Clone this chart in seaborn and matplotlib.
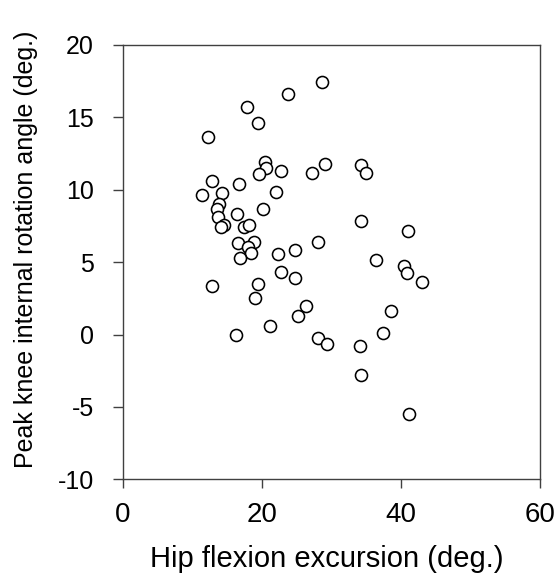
import matplotlib
matplotlib.use("Agg")
import matplotlib.pyplot as plt
import seaborn as sns
import pandas as pd

hip_flexion = [28.6, 23.8, 17.9, 19.4, 12.25, 20.5, 20.6, 19.5, 22.8, 27.2, 29.0, 34.3, 34.9,
               12.8, 16.75, 11.4, 14.2, 22.06, 13.8, 13.5, 13.7, 16.4, 20.1,
               14.5, 14.17, 17.4, 18.1, 34.3, 41.0,
               16.55, 18.8, 17.94, 18.4, 16.9, 22.35, 24.8, 28.0,
               22.7, 24.8, 36.4, 40.4, 40.8, 43.06,
               12.78, 19.4, 19.0, 26.3, 25.2, 38.6, 21.15, 16.3, 37.4, 28.1, 29.4, 34.1, 34.3, 41.1]
knee_rotation = [17.43, 16.6, 15.72, 14.64, 13.63, 11.93, 11.53, 11.1, 11.33, 11.19, 11.79, 11.72, 11.15,
                 10.64, 10.43, 9.63, 9.79, 9.85, 9.05, 8.66, 8.15, 8.33, 8.68,
                 7.55, 7.46, 7.46, 7.55, 7.87, 7.18,
                 6.33, 6.38, 6.04, 5.64, 5.28, 5.55, 5.83, 6.42,
                 4.35, 3.94, 5.16, 4.72, 4.26, 3.62,
                 3.36, 3.48, 2.51, 1.98, 1.28, 1.66, 0.62, -0.04, 0.14, -0.21, -0.62, -0.76, -2.76, -5.48]

x_ticks = [0, 20, 40, 60]
y_ticks = [-10, -5, 0, 5, 10, 15, 20]
x_label = "Hip flexion excursion (deg.)"
y_label = "Peak knee internal rotation angle (deg.)"

df = pd.DataFrame({"hip": hip_flexion, "knee": knee_rotation})

sns.set_style("white")
plt.rcParams['font.family'] = ['Liberation Sans', 'DejaVu Sans']
plt.rcParams['axes.unicode_minus'] = False
plt.rcParams['text.color'] = 'black'
plt.rcParams['axes.labelcolor'] = 'black'
plt.rcParams['xtick.labelcolor'] = 'black'
plt.rcParams['ytick.labelcolor'] = 'black'

fig = plt.figure(figsize=(5.59, 5.76), dpi=100)
ax = fig.add_axes([0.22, 0.1678, 0.746, 0.7541])

sns.scatterplot(data=df, x="hip", y="knee", ax=ax, s=75, facecolor="white",
                edgecolor="black", linewidth=1.15, zorder=3)

ax.set_xlim(0, 60)
ax.set_ylim(-10, 20)
ax.set_xticks(x_ticks)
ax.set_yticks(y_ticks)
ax.set_xlabel(x_label, fontsize=21, color="black")
ax.set_ylabel(y_label, fontsize=18, color="black")
ax.xaxis.set_label_coords(0.489, -0.152)
ax.yaxis.set_label_coords(-0.203, 0.529)
ax.tick_params(axis="x", labelsize=20, direction="out", length=6.5, width=1.0,
               color="#404040", labelcolor="black", bottom=True, top=False, pad=10)
ax.tick_params(axis="y", labelsize=18, direction="out", length=7, width=1.0,
               color="#404040", labelcolor="black", left=True, right=False, pad=14)
for sp in ax.spines.values():
    sp.set_visible(True)
    sp.set_color("#404040")
    sp.set_linewidth(1.0)
ax.grid(False)

fig.savefig("out.png", dpi=100)
